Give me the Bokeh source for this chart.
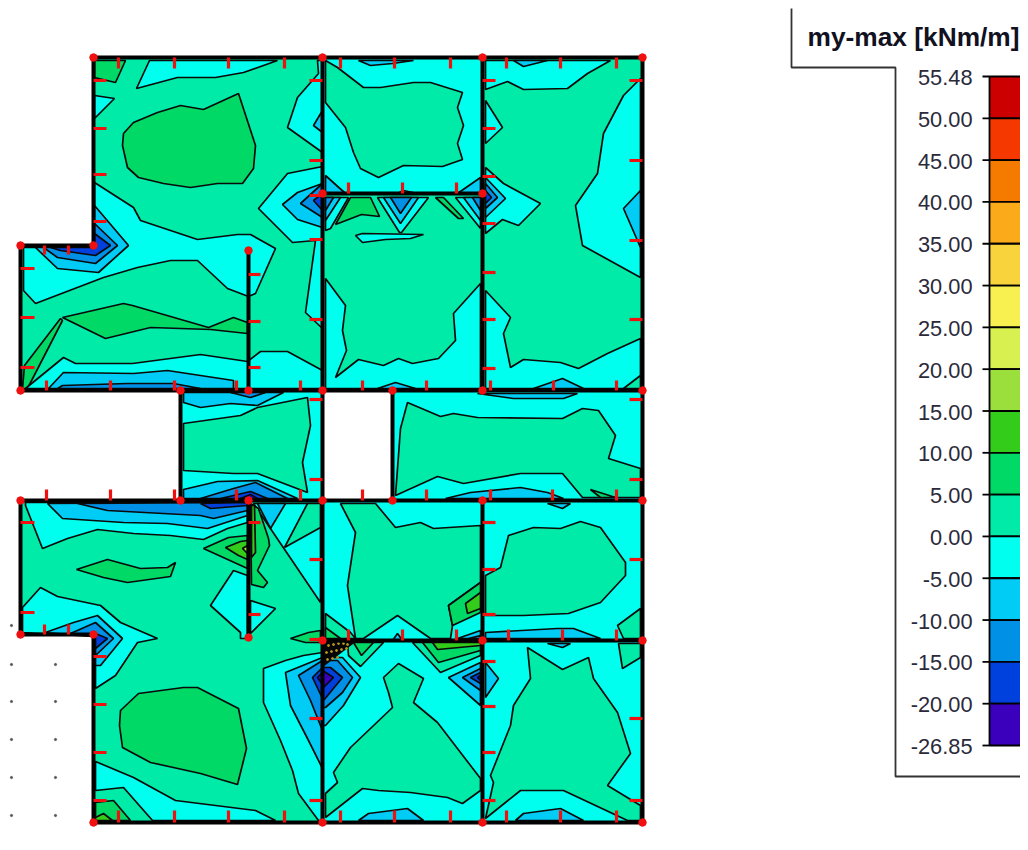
from bokeh.plotting import figure
from bokeh.models import Range1d
from bokeh.core.properties import value
from bokeh.embed import file_html
from bokeh.resources import INLINE

# ---- legend data ----
legend_title = "my-max [kNm/m]"
legend_labels = ["55.48", "50.00", "45.00", "40.00", "35.00", "30.00", "25.00", "20.00", "15.00",
                 "10.00", "5.00", "0.00", "-5.00", "-10.00", "-15.00", "-20.00", "-26.85"]
legend_colors = ["#CC0000", "#F53700", "#F57A00", "#FBAA1A", "#F8D33C", "#F8F050", "#D8F050", "#9ADF3C",
                 "#33CC1A", "#00D966", "#00EBA8", "#00FFEE", "#00CCF5", "#0090E6", "#0040DD", "#3A00BB"]
level = {"p15": "#33CC1A", "p20": "#9ADF3C", "p10": "#00D966", "p5": "#00EBA8", "z": "#00FFEE",
         "m5": "#00CCF5", "m10": "#0090E6", "m15": "#0040DD", "m20": "#3A00BB", "hot": "#050505"}

# ---- structure: slab fields, each an outline plus contour bands in drawing order ----
panel_a = [
    ("p5", [(93,57),(322,57),(322,390),(20,390),(20,245),(93,245)]),
    ("p10", [(94,60),(125,60),(115,82),(94,77)]),
    ("z", [(94,95),(114,98),(94,118)]),
    ("z", [(149,60),(136,88),(177,77),(215,77),(243,72),(277,60)]),
    ("p10", [(123,133),(133,122),(157,112),(180,105),(203,109),(238,93),(255,145),(253,168),(242,183),(217,183),(190,187),(163,183),(138,177),(127,167),(122,145)]),
    ("z", [(317,60),(318,73),(297,97),(287,127),(322,152),(322,60)]),
    ("m5", [(322,110),(313,125),(322,132)]),
    ("z", [(322,166),(287,173),(258,208),(292,242),(315,240),(305,312),(322,328)]),
    ("m5", [(322,183),(297,192),(282,204),(297,219),(322,227)]),
    ("m10", [(322,183),(300,203),(322,217)]),
    ("m15", [(322,193),(313,200),(322,210)]),
    ("z", [(94,182),(133,207),(140,220),(197,239),(237,234),(250,234),(275,248),(255,293),(248,296),(227,288),(197,260),(170,260),(137,267),(103,277),(35,303),(23,290),(23,247),(94,247)]),
    ("m5", [(94,205),(128,245),(98,272),(57,268),(35,247),(94,247)]),
    ("m10", [(94,223),(117,245),(95,263),(57,257),(43,247),(94,247)]),
    ("m15", [(94,233),(110,245),(95,255),(60,250),(50,247),(94,247)]),
    ("p10", [(62,317),(123,303),(132,305),(208,327),(233,317),(247,322),(247,333),(210,329),(150,327),(105,338)]),
    ("p10", [(22,388),(24,365),(60,318),(62,320),(27,388)]),
    ("z", [(25,388),(63,357),(75,363),(132,363),(200,354),(247,361),(260,351),(287,351),(322,370),(322,388)]),
    ("m5", [(48,388),(63,372),(133,373),(167,370),(233,380),(233,388)]),
    ("m10", [(57,388),(62,385),(127,383),(173,383),(200,388)]),
]
panel_b = [
    ("z", [(322,57),(482,57),(482,193),(322,193)]),
    ("p5", [(325,60),(337,67),(363,87),(380,87),(413,82),(430,82),(462,92),(457,107),(463,125),(457,143),(462,159),(442,166),(403,165),(378,177),(360,168),(353,152),(345,127),(325,102)]),
    ("m5", [(358,60),(370,65),(392,63),(413,60)]),
    ("m5", [(325,175),(345,193),(325,193)]),
    ("m5", [(457,193),(480,177),(480,193)]),
    ("m5", [(397,193),(403,190),(417,193)]),
]
panel_b2 = [
    ("p5", [(322,193),(482,193),(482,390),(322,390)]),
    ("z", [(325,278),(345,305),(342,330),(346,350),(335,377),(358,359),(383,365),(398,358),(412,363),(438,358),(455,340),(453,313),(480,283),(480,388),(325,388)]),
    ("m5", [(377,388),(395,382),(415,388)]),
    ("z", [(325,197),(348,197),(330,228),(325,230)]),
    ("m5", [(325,197),(340,197),(325,220)]),
    ("m10", [(325,197),(333,197),(325,210)]),
    ("p10", [(350,197),(370,197),(379,216),(361,214),(335,224)]),
    ("z", [(377,197),(399,232),(401,232),(428,197)]),
    ("m5", [(383,197),(400,223),(418,197)]),
    ("m10", [(390,197),(400,213),(411,197)]),
    ("z", [(355,235),(362,233),(423,234),(410,238),(385,239),(362,242)]),
    ("p10", [(435,197),(443,197),(463,218),(458,218)]),
    ("z", [(455,197),(480,228),(480,197)]),
    ("m5", [(463,197),(480,220),(480,197)]),
    ("m10", [(472,197),(480,210),(480,197)]),
]
panel_c = [
    ("p5", [(482,57),(642,57),(642,390),(482,390)]),
    ("z", [(485,89),(507,81),(523,89),(567,88),(587,73),(610,60),(485,60)]),
    ("m5", [(513,60),(523,66),(547,60)]),
    ("z", [(485,100),(502,127),(485,143)]),
    ("z", [(485,167),(503,183),(540,203),(518,225),(502,219),(485,233)]),
    ("m5", [(485,177),(505,198),(485,217)]),
    ("m10", [(485,183),(497,197),(485,208)]),
    ("m15", [(485,190),(491,197),(485,203)]),
    ("z", [(640,78),(623,95),(603,133),(597,173),(575,205),(582,245),(640,277)]),
    ("m5", [(640,190),(623,208),(640,247)]),
    ("z", [(485,290),(510,317),(503,333),(510,367),(523,359),(560,362),(578,368),(607,353),(640,338),(640,388),(485,388)]),
    ("p5", [(623,388),(640,375),(640,388)]),
    ("m5", [(533,388),(562,378),(583,388)]),
]
panel_d = [
    ("z", [(180,390),(322,390),(322,500),(180,500)]),
    ("p5", [(183,423),(240,415),(257,407),(307,397),(310,425),(302,462),(307,492),(257,473),(233,473),(183,470)]),
    ("m5", [(183,392),(283,392),(257,405),(230,403),(200,407),(183,402)]),
    ("m10", [(230,392),(250,397),(265,392)]),
    ("m5", [(183,489),(217,481),(257,480),(297,498),(183,498)]),
    ("m10", [(200,498),(233,488),(255,482),(287,498)]),
    ("m15", [(220,498),(250,491),(267,498)]),
    ("m20", [(240,498),(250,494),(257,498)]),
]
panel_e = [
    ("z", [(392,390),(642,390),(642,500),(392,500)]),
    ("p5", [(395,495),(400,428),(407,402),(440,416),(453,413),(477,417),(562,418),(582,408),(598,410),(615,435),(608,458),(640,468),(640,497),(582,497),(562,473),(520,473),(463,483),(437,476)]),
    ("m5", [(445,498),(470,492),(520,487),(547,492),(563,498)]),
    ("m5", [(477,393),(513,398),(563,398),(577,393)]),
    ("p10", [(590,489),(615,497),(600,497)]),
]
panel_f = [
    ("p5", [(20,500),(322,500),(322,822),(93,822),(93,634),(20,634)]),
    ("z", [(25,505),(42,548),(67,538),(97,529),(133,533),(170,535),(203,539),(227,528),(247,522),(247,502),(25,502)]),
    ("m5", [(47,503),(62,518),(123,522),(167,523),(207,528),(247,515),(247,502)]),
    ("m10", [(77,503),(107,510),(200,515),(213,518),(247,510),(247,502)]),
    ("m15", [(200,503),(210,508),(247,505),(247,502)]),
    ("p10", [(203,548),(228,537),(247,535),(247,568)]),
    ("p15", [(225,547),(240,541),(247,540),(247,559),(238,555)]),
    ("p20", [(242,548),(247,545),(247,553)]),
    ("z", [(253,503),(320,503),(320,602)]),
    ("p10", [(250,503),(258,508),(268,538),(269,545),(257,570),(267,582),(263,587),(251,584)]),
    ("p15", [(251,505),(254,505),(255,552),(251,557)]),
    ("m5", [(257,503),(285,503),(270,528)]),
    ("p5", [(307,503),(320,503),(320,527),(284,547)]),
    ("p10", [(76,569),(107,559),(140,568),(167,567),(175,562),(170,576),(127,582),(103,577)]),
    ("z", [(22,607),(40,587),(57,596),(100,605),(120,622),(157,638),(137,642),(115,675),(95,688),(95,636),(22,632)]),
    ("m5", [(45,632),(73,622),(97,615),(122,638),(100,665),(95,665),(95,636)]),
    ("m10", [(70,633),(95,622),(113,638),(95,655),(95,634)]),
    ("m15", [(95,633),(107,638),(95,648)]),
    ("z", [(233,570),(210,605),(240,632),(240,638),(247,638),(247,575)]),
    ("z", [(250,600),(275,608),(250,633)]),
    ("p10", [(290,638),(308,632),(320,630),(320,642),(305,642)]),
    ("p10", [(120,710),(138,693),(183,687),(197,687),(238,708),(246,748),(237,784),(200,773),(150,762),(122,747),(119,725)]),
    ("z", [(95,761),(133,777),(175,800),(255,810),(275,820),(152,820),(123,787),(95,790)]),
    ("p10", [(95,802),(113,800),(130,820),(95,820)]),
    ("p15", [(95,817),(103,813),(112,820),(95,820)]),
    ("z", [(322,652),(303,655),(285,660),(263,668),(263,702),(280,740),(292,770),(298,793),(318,820),(322,820)]),
    ("m5", [(285,672),(322,657),(322,768),(308,740),(290,705)]),
    ("m10", [(298,675),(322,660),(322,730),(310,700)]),
    ("m15", [(312,677),(322,667),(322,698)]),
    ("m20", [(317,677),(322,672),(322,684)]),
]
panel_g = [
    ("z", [(322,500),(482,500),(482,640),(322,640)]),
    ("p5", [(340,503),(355,532),(347,585),(355,638),(363,638),(397,615),(430,638),(450,638),(452,625),(448,605),(480,582),(480,525),(433,528),(420,522),(395,527),(375,503)]),
    ("p10", [(480,582),(448,605),(452,625),(480,612)]),
    ("p15", [(480,592),(465,603),(467,613),(480,608)]),
    ("m5", [(457,638),(480,630),(480,638)]),
    ("m10", [(468,638),(480,635),(480,638)]),
    ("p5", [(325,613),(350,632),(355,638),(325,638)]),
    ("p10", [(325,627),(340,638),(325,638)]),
    ("m5", [(392,640),(397,633),(402,640)]),
]
panel_h = [
    ("z", [(482,500),(642,500),(642,640),(482,640)]),
    ("p5", [(485,575),(500,567),(508,535),(533,527),(560,528),(580,521),(600,527),(625,562),(625,575),(600,602),(568,613),(523,615),(485,615)]),
    ("m5", [(485,632),(557,628),(573,628),(600,638),(485,638)]),
    ("m5", [(547,503),(562,508),(570,503)]),
    ("p5", [(617,625),(640,608),(640,638),(623,638)]),
]
panel_i = [
    ("z", [(322,640),(482,640),(482,822),(322,822)]),
    ("p5", [(383,677),(398,663),(423,678),(413,702),(437,722),(460,752),(480,778),(480,790),(462,803),(447,797),(410,792),(378,790),(362,788),(325,817),(325,793),(337,782),(333,772),(350,747),(392,707),(388,692)]),
    ("m5", [(358,820),(368,813),(407,808),(423,820)]),
    ("m5", [(322,657),(342,657),(360,677),(343,705),(325,725),(322,725)]),
    ("m10", [(322,660),(337,660),(352,677),(342,692),(325,707),(322,707)]),
    ("m15", [(322,667),(330,667),(342,677),(323,700),(322,700)]),
    ("m20", [(322,670),(333,677),(323,687),(322,687)]),
    ("p5", [(347,642),(383,642),(360,666),(348,655)]),
    ("p10", [(353,642),(373,642),(361,655)]),
    ("hot", [(324,642),(353,642),(323,665)]),
    ("p5", [(412,642),(440,672),(480,655),(480,642)]),
    ("p10", [(422,642),(438,662),(480,650),(480,642)]),
    ("p15", [(432,642),(437,649),(480,645),(480,642)]),
    ("m5", [(448,677),(480,662),(480,705)]),
    ("m10", [(462,677),(480,668),(480,690)]),
    ("m15", [(470,677),(480,672),(480,683)]),
    ("m20", [(477,677),(480,675),(480,680)]),
]
panel_j = [
    ("z", [(482,640),(642,640),(642,822),(482,822)]),
    ("p5", [(527,647),(562,669),(588,657),(593,678),(617,712),(630,753),(607,785),(640,805),(640,820),(627,820),(563,790),(520,790),(485,818),(493,782),(490,775),(510,725),(513,705),(530,678)]),
    ("m5", [(515,820),(523,813),(560,808),(583,820)]),
    ("p5", [(618,643),(640,643),(640,657),(622,668)]),
    ("m5", [(547,643),(562,647),(570,643)]),
    ("m5", [(485,662),(498,678),(485,697)]),
]
panels = [panel_a, panel_b, panel_b2, panel_c, panel_d, panel_e, panel_f, panel_g, panel_h, panel_i, panel_j]

hot_dots = [(328,645),(333,644),(338,643),(343,643),(347,644),(326,652),(331,651),(336,650),(341,649),(346,648),(327,659),(332,658),(337,657)]

walls = [
    [(93,57),(642,57),(642,822),(93,822),(93,634),(20,634),(20,500),(642,500)],
    [(93,57),(93,245),(20,245),(20,390),(642,390)],
    [(322,57),(322,822)], [(482,57),(482,390)], [(482,500),(482,822)],
    [(322,193),(482,193)], [(322,640),(642,640)],
    [(180,390),(180,500)], [(392,390),(392,500)],
    [(248,250),(248,390)], [(248,500),(248,637)],
]

ticks_v = [  # x, y0, y1
    (118,57,68),(174,57,68),(228,57,68),(284,57,68),(340,57,68),(394,57,68),(450,57,68),(506,57,68),(560,57,68),(616,57,68),
    (44,245,254),(68,245,254),
    (46,390,380),(110,390,380),(174,390,380),(236,390,380),(300,390,380),(362,390,380),(426,390,380),(490,390,380),(553,390,380),(616,390,380),
    (348,193,182),(402,193,182),(456,193,182),
    (46,500,489),(110,500,489),(174,500,489),(236,500,489),(300,500,489),(362,500,489),(426,500,489),(490,500,489),(552,500,489),(616,500,489),
    (44,634,624),(68,634,624),
    (348,640,629),(402,640,629),(456,640,629),(508,640,629),(562,640,629),(616,640,629),
    (118,822,810),(174,822,810),(228,822,810),(284,822,810),(340,822,810),(394,822,810),(450,822,810),(506,822,810),(560,822,810),(616,822,810),
]
ticks_h = [  # y, x0, x1
    (80,93,106),(128,93,106),(174,93,106),(221,93,106),
    (268,20,34),(317,20,34),(367,20,34),
    (274,248,260),(321,248,260),(367,248,260),
    (80,322,309),(160,322,309),(195,322,309),(239,322,309),(319,322,309),
    (80,482,495),(128,482,495),(176,482,495),(223,482,495),(272,482,495),(319,482,495),(368,482,495),
    (80,642,629),(160,642,629),(240,642,629),(319,642,629),
    (399,322,309),(479,322,309),(399,642,629),(479,642,629),
    (522,20,34),(612,20,34),(522,248,260),(614,248,260),
    (656,93,106),(704,93,106),(752,93,106),(800,93,106),
    (559,322,309),(639,322,309),(718,322,309),(800,322,309),
    (522,482,495),(569,482,495),(614,482,495),(661,482,495),(706,482,495),(752,482,495),(800,482,495),
    (559,642,629),(718,642,629),(800,642,629),
]
nodes = [(93,57),(322,57),(482,57),(642,57),(20,245),(93,245),(248,250),(322,193),(482,193),
         (20,390),(180,390),(248,390),(322,390),(392,390),(482,390),(642,390),
         (20,500),(180,500),(248,500),(322,500),(392,500),(482,500),(642,500),
         (20,634),(93,634),(248,637),(322,640),(482,640),(642,640),(93,822),(322,822),(482,822),(642,822)]
grid_dots = [(11,625),(11,664),(55,664),(11,701),(55,701),(11,739),(55,739),(11,777),(55,777),(11,815),(55,815)]

# ---- figure ----
p = figure(width=1020, height=834, x_range=Range1d(0, 1020), y_range=Range1d(834, 0),
           output_backend="svg", toolbar_location=None, min_border=0)
p.axis.visible = False
p.grid.visible = False
p.outline_line_color = None

p.scatter([d[0] for d in grid_dots], [d[1] for d in grid_dots], size=2.2, color="#555555")

xs, ys, cs = [], [], []
for panel in panels:
    for lev, pts in panel:
        xs.append([q[0] for q in pts])
        ys.append([q[1] for q in pts])
        cs.append(level[lev])
p.patches(xs, ys, fill_color=cs, line_color="#0A0A0A", line_width=1.7)

p.scatter([d[0] for d in hot_dots], [d[1] for d in hot_dots], size=2, color="#B89A20")

for w in walls:
    p.line([q[0] for q in w], [q[1] for q in w], line_color="#000000", line_width=4, line_join="miter")

p.segment([t[0] for t in ticks_v], [t[1] for t in ticks_v], [t[0] for t in ticks_v], [t[2] for t in ticks_v],
          line_color="#F01010", line_width=3.2)
p.segment([t[1] for t in ticks_h], [t[0] for t in ticks_h], [t[2] for t in ticks_h], [t[0] for t in ticks_h],
          line_color="#F01010", line_width=3.2)
p.scatter([n[0] for n in nodes], [n[1] for n in nodes], size=7.5, color="#F01010")

p.line([791, 791, 895, 895, 1028], [8, 67, 67, 776, 776], line_color="#333333", line_width=1.8)
p.text([1019], [36], text=[legend_title], text_align="right", text_baseline="middle",
       text_font=value("Liberation Sans"), text_font_style="bold", text_font_size="26.3px", text_color="#111122")

top, step = 76, (745 - 76) / 16
n = len(legend_colors)
p.quad(left=[989] * n, right=[1021] * n,
       top=[top + i * step for i in range(n)], bottom=[top + (i + 1) * step for i in range(n)],
       fill_color=legend_colors, line_color="#000000", line_width=1.8)
ly = [top + i * step for i in range(len(legend_labels))]
p.segment([982] * len(ly), ly, [989] * len(ly), ly, line_color="#000000", line_width=1.8)
p.text([972] * len(ly), [v + 1 for v in ly], text=legend_labels, text_align="right", text_baseline="middle",
       text_font=value("Liberation Sans"), text_font_size="21.8px", text_color="#2A2A3A")

open("out.html", "w").write(file_html(p, INLINE))
